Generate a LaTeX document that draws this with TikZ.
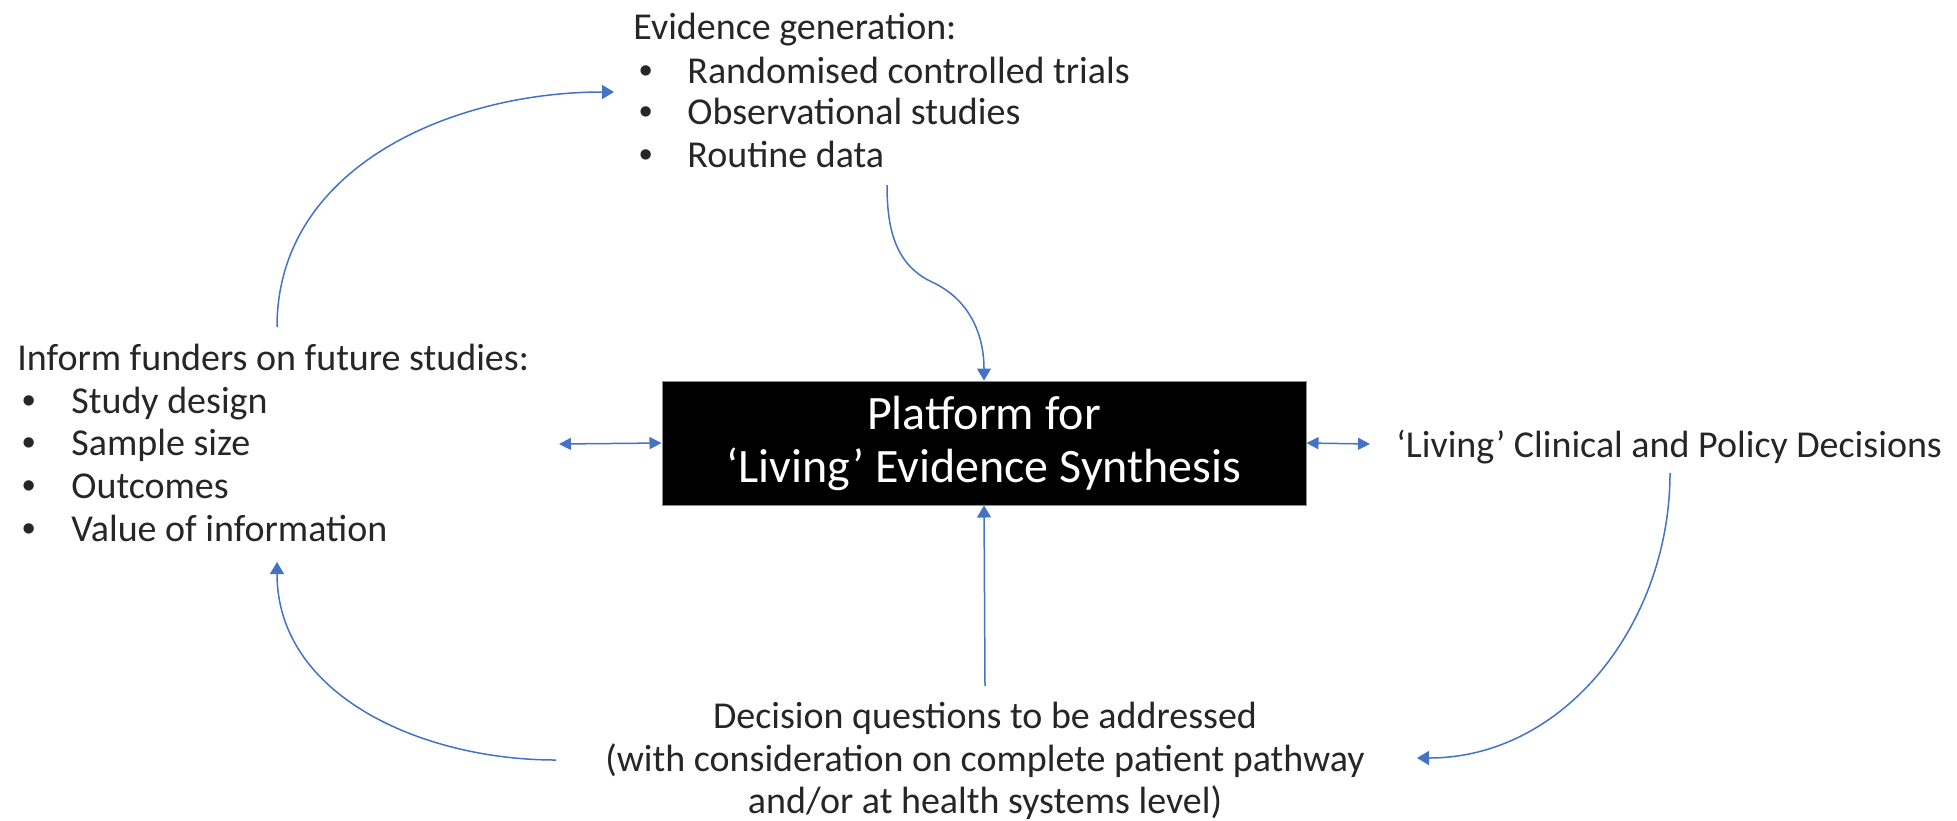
\documentclass[tikz,border=0pt]{standalone}
\usepackage{fontspec}
\setmainfont{Carlito}
\newfontfamily\bulletfont{Liberation Sans}
\usetikzlibrary{arrows.meta}
\definecolor{linkblue}{RGB}{68,114,196}
\definecolor{inkgrey}{RGB}{38,38,38}
\newcommand{\blt}{{\bulletfont\textbullet}}
\tikzset{
	txt/.style={anchor=base west, inner sep=0pt, text=inkgrey, font=\fontsize{19}{22}\selectfont},
	link/.style={draw=linkblue, line width=0.75pt, -{Triangle[width=7pt,length=6pt]}},
	twoway/.style={draw=linkblue, line width=0.75pt, {Triangle[width=6pt,length=6pt]}-{Triangle[width=6pt,length=6pt]}}
}
\begin{document}
\begin{tikzpicture}[x=0.5pt,y=-0.5pt]
	\useasboundingbox (0,0) rectangle (1957,820);
	% Platform
	\node [fill=black, draw=black!45, line width=0.5pt, text=white, minimum width=322pt, minimum height=62pt, align=center, inner sep=0pt,
		font=\fontsize{24}{26.5}\selectfont] (platform) at (984,443) {Platform for\\`Living' Evidence Synthesis};
	% Evidence generation
	\node [txt] (evtitle) at (633,39) {Evidence generation:};
	\node [txt] (evb1) at (639,83) {\blt};\node [txt] (evt1) at (687,83) {Randomised controlled trials};
	\node [txt] (evb2) at (639,124) {\blt};\node [txt] (evt2) at (687,124) {Observational studies};
	\node [txt] (evb3) at (639,167) {\blt};\node [txt] (evt3) at (687,167) {Routine data};
	% Funders
	\node [txt] (futitle) at (17,370) {Inform funders on future studies:};
	\node [txt] (fub1) at (22,413) {\blt};\node [txt] (fut1) at (71,413) {Study design};
	\node [txt] (fub2) at (22,455) {\blt};\node [txt] (fut2) at (71,455) {Sample size};
	\node [txt] (fub3) at (22,498) {\blt};\node [txt] (fut3) at (71,498) {Outcomes};
	\node [txt] (fub4) at (22,541) {\blt};\node [txt] (fut4) at (71,541) {Value of information};
	% Decisions
	\node [txt] (living) at (1396,457) {`Living' Clinical and Policy Decisions};
	\node [text=inkgrey, inner sep=0pt, align=center, font=\fontsize{19}{21.25}\selectfont] (questions) at (985,761)
		{Decision questions to be addressed\\(with consideration on complete patient pathway\\and/or at health systems level)};
	% Free ends
	\coordinate (evout) at (887,185);
	\coordinate (evbend) at (932,282);
	\coordinate (evin) at (614,92);
	\coordinate (fuout) at (277,327);
	\coordinate (fuin) at (277,562);
	\coordinate (fuside) at (559,444);
	\coordinate (qout) at (985,686);
	\coordinate (qleft) at (556,760);
	\coordinate (qin) at (1417,758);
	\coordinate (liout) at (1670,473);
	\coordinate (liside) at (1370,444);
	% Arrows
	\draw [link] (evout) to [out=-90,in=155] (evbend) to [out=-25,in=90] (platform.north);
	\draw [link] (fuout) to [out=90,in=180] (evin);
	\draw [link] (qleft) to [out=180,in=-90] (fuin);
	\draw [link] (liout) to [out=-90,in=0] (qin);
	\draw [link] (qout) -- (platform.south);
	\draw [twoway] (fuside) -- (platform.west);
	\draw [twoway] (platform.east) -- (liside);
\end{tikzpicture}
\end{document}
